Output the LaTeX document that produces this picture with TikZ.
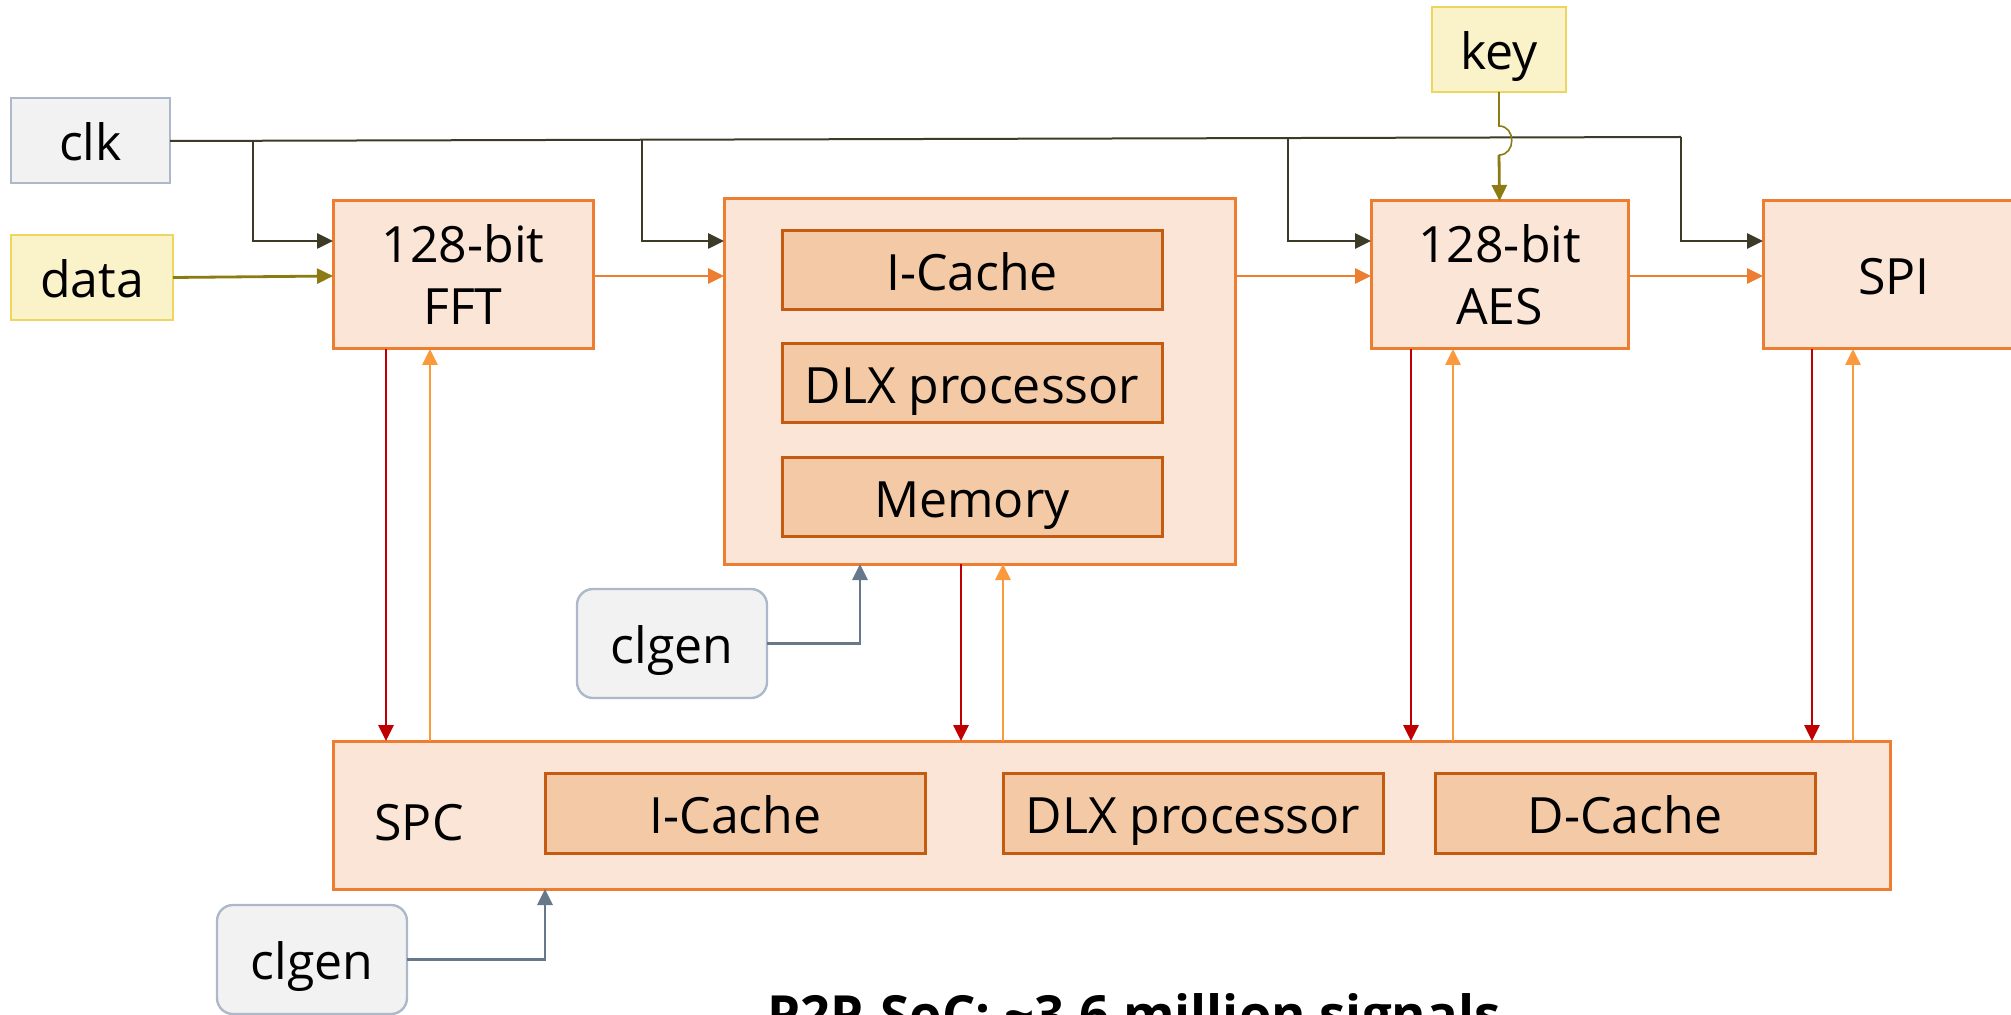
\documentclass[tikz,border=0pt]{standalone}
\usepackage{fontspec}
\setmainfont{Open Sans}
\usetikzlibrary{arrows.meta,calc}
\definecolor{peach}{HTML}{FBE5D6}
\definecolor{orangeB}{HTML}{ED7D31}
\definecolor{innerF}{HTML}{F4CAA6}
\definecolor{innerB}{HTML}{C55A11}
\definecolor{greyF}{HTML}{F2F2F2}
\definecolor{greyB}{HTML}{ADB9CA}
\definecolor{yelF}{HTML}{FAF2C8}
\definecolor{yelB}{HTML}{EDD660}
\definecolor{clkC}{HTML}{3D3B28}
\definecolor{oliveC}{HTML}{8C7A12}
\definecolor{redC}{HTML}{C00000}
\definecolor{upC}{HTML}{FA9A3C}
\definecolor{genC}{HTML}{66788A}
\tikzset{
  txt/.style={font=\fontsize{25}{31}\selectfont, align=center},
  blk/.style={txt, draw=orangeB, fill=peach, line width=1.5pt, inner sep=0pt, outer sep=0pt},
  oneline/.style={text height=21pt, text depth=1pt},
  inblk/.style={txt, oneline, draw=innerB, fill=innerF, line width=1.5pt, inner sep=0pt, outer sep=0pt, minimum width=190pt, minimum height=39.5pt},
  greybox/.style={txt, oneline, draw=greyB, fill=greyF, line width=1.2pt, inner sep=0pt, outer sep=0pt},
  yelbox/.style={txt, oneline, draw=yelB, fill=yelF, line width=1.2pt, inner sep=0pt, outer sep=0pt},
  tip/.style={-{Triangle[length=8pt,width=7.5pt]}},
  clkwire/.style={draw=clkC, line width=1pt},
  clkarr/.style={tip, draw=clkC, line width=1.3pt},
  oarr/.style={tip, draw=orangeB, line width=1.4pt},
  redarr/.style={tip, draw=redC, line width=1.4pt},
  uparr/.style={tip, draw=upC, line width=1.4pt},
  datarr/.style={tip, draw=oliveC, line width=1.4pt},
  genarr/.style={tip, draw=genC, line width=1.4pt},
}
\begin{document}
\begin{tikzpicture}[x=0.5pt,y=-0.5pt]
\useasboundingbox (0,0) rectangle (2011,1015);
% input boxes
\node[greybox, minimum width=79.5pt, minimum height=42.5pt] (clk) at (90.5,140.5) {clk};
\node[yelbox, minimum width=81pt, minimum height=42.5pt] (data) at (92,277.5) {data};
\node[yelbox, minimum width=67pt, minimum height=42.5pt] (key) at (1499,49.5) {key};
% main blocks
\node[blk, minimum width=130pt, minimum height=74pt] (FFT) at (463,275) {\rule{0pt}{3pt}128-bit\\FFT};
\node[blk, minimum width=255.5pt, minimum height=182.5pt] (DLX) at (979.5,381.5) {};
\node[inblk] (ic1) at (972,270.5) {I-Cache};
\node[inblk] (dp1) at (972,383.5) {DLX processor};
\node[inblk] (mem1) at (972,497) {Memory};
\node[blk, minimum width=128.5pt, minimum height=74pt] (AES) at (1499.5,275) {128-bit\\AES};
\node[blk, oneline, minimum width=131pt, minimum height=74pt] (SPI) at (1894,275) {SPI};
\node[blk, minimum width=778.5pt, minimum height=74pt] (SPC) at (1111.5,815) {};
\node[txt] (spclbl) at (419,823) {SPC};
\node[inblk, minimum height=40pt] (ic2) at (735.5,813) {I-Cache};
\node[inblk, minimum height=40pt] (dp2) at (1193,813) {DLX processor};
\node[inblk, minimum height=40pt] (dc2) at (1625,813) {D-Cache};
% clock generators
\node[greybox, rounded corners=8pt, minimum width=95pt, minimum height=54.5pt] (gen1) at (672,643.5) {clgen};
\node[greybox, rounded corners=8pt, minimum width=95pt, minimum height=54.5pt] (gen2) at (312,959.5) {clgen};
% title
\node[font=\fontsize{26.3}{30}\selectfont\bfseries, anchor=base] (title) at (1134,1033) {P2P-SoC: \textasciitilde3.6 million signals};
% coordinates
\coordinate (clkY) at (0,241);
\coordinate (busY) at (0,276);
\coordinate (b1) at (253,140.8);
\coordinate (b2) at (642,139.8);
\coordinate (b3) at (1288,138);
\coordinate (b4) at (1681,137);
% clock wires
\draw[clkwire] (clk.east |- 0,141) -- (b4);
\draw[clkarr] (b1) |- (FFT.west |- clkY);
\draw[clkarr] (b2) |- (DLX.west |- clkY);
\draw[clkarr] (b3) |- (AES.west |- clkY);
\draw[clkarr] (b4) |- (SPI.west |- clkY);
% data and key
\draw[datarr] (data.east) -- (FFT.west |- busY);
\draw[draw=oliveC, line width=0.8pt] (key.south) -- (1499,126) .. controls (1516,126) and (1516,155) .. (1499,155);
\coordinate (hopEnd) at (1499,155);
\draw[datarr] (hopEnd) -- (AES.north);
% bus arrows
\draw[oarr] (FFT.east |- busY) -- (DLX.west |- busY);
\draw[oarr] (DLX.east |- busY) -- (AES.west |- busY);
\draw[oarr] (AES.east |- busY) -- (SPI.west |- busY);
% vertical arrows
\foreach \blk/\xr/\xu in {FFT/386/430, DLX/961/1003, AES/1411/1453, SPI/1812/1853}{
  \coordinate (xr) at (\xr,0);
  \coordinate (xu) at (\xu,0);
  \draw[redarr] (\blk.south -| xr) -- (SPC.north -| xr);
  \draw[uparr] (SPC.north -| xu) -- (\blk.south -| xu);
}
% clgen arrows
\coordinate (xC) at (860,0);
\coordinate (xD) at (545,0);
\draw[genarr] (gen1.east) -| (DLX.south -| xC);
\draw[genarr] (gen2.east) -| (SPC.south -| xD);
\end{tikzpicture}
\end{document}
